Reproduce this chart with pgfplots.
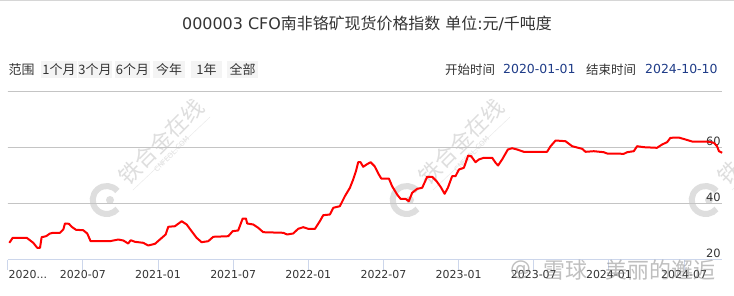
\documentclass[border=0pt]{standalone}
\usepackage{pgfplots}
\pgfplotsset{compat=1.18}
\usepackage{fontspec}
\setmainfont{DejaVu Sans}
\newfontfamily\cjk{Noto Sans CJK SC}
\definecolor{axisc}{HTML}{CCD6EB}
\definecolor{gridc}{HTML}{C4C4C4}
\definecolor{txt}{HTML}{333333}
\definecolor{datec}{HTML}{1F3C88}
\definecolor{btn}{HTML}{F4F4F4}
\definecolor{wm}{HTML}{DEDEDE}
\pgfdeclarelayer{bg}
\pgfsetlayers{bg,main}
\begin{document}
\begin{tikzpicture}[x=1bp,y=1bp]
\begin{axis}[
  name=ax,
  scale only axis, width=714.6bp, height=168bp,
  xmin=0, xmax=57.05, ymin=20, ymax=80,
  axis x line*=bottom, axis y line*=right,
  x axis line style={axisc, line width=1bp, -},
  y axis line style={draw=none},
  xtick={0,6,...,54},
  xticklabels={\makebox[0pt][l]{\hspace{1bp}2020...},2020-07,2021-01,2021-07,2022-01,2022-07,2023-01,2023-07,2024-01,2024-07},
  ytick={40,60,80},
  yticklabels={40,60,{}},
  extra y ticks={20}, extra y tick labels={20},
  extra y tick style={grid=none},
  ymajorgrids, major grid style={draw=gridc, line width=1bp},
  x tick style={axisc, line width=1bp},
  major tick length=10bp,
  tick align=outside,
  y tick style={/pgfplots/major tick length=0bp, draw=gridc, line width=1bp},
  /pgf/number format/assume math mode=true,
  xticklabel style={font=\fontsize{11}{11}\selectfont, text=txt, inner sep=1bp},
  yticklabel pos=right,
  yticklabel style={anchor=south east, font=\fontsize{11.5}{11.5}\selectfont, text=txt, inner sep=1.5bp, xshift=-10bp},
  clip=false,
]
\addplot[red, line width=2bp, line join=round] coordinates {
(0.13,25.96)(0.40,27.75)(1.52,27.75)(2.04,25.96)(2.36,24.18)(2.58,24.18)(2.71,27.96)(3.06,28.32)(3.38,29.29)(3.64,29.54)(4.17,29.54)(4.44,30.71)(4.57,32.86)(4.89,32.75)(5.11,31.68)(5.45,30.61)(6.03,30.46)(6.35,29.29)(6.62,26.54)(8.16,26.54)(8.83,27.14)(9.23,26.79)(9.62,25.71)(9.82,26.89)(10.16,26.32)(10.82,25.96)(11.22,25.0)(11.76,25.61)(12.15,27.14)(12.61,28.93)(12.82,31.68)(13.35,31.89)(13.89,33.68)(14.29,32.5)(14.68,30.11)(15.08,27.75)(15.48,26.18)(16.01,26.54)(16.41,28.11)(17.61,28.32)(17.96,30.11)(18.40,30.36)(18.76,34.64)(19.02,34.64)(19.12,32.86)(19.60,32.5)(20.00,31.32)(20.40,29.75)(22.00,29.54)(22.31,28.93)(22.79,29.29)(23.19,30.96)(23.59,31.54)(23.99,30.96)(24.53,30.96)(24.92,33.68)(25.19,35.82)(25.72,36.07)(25.99,38.46)(26.52,39.04)(26.92,42.61)(27.32,45.61)(27.58,48.57)(27.80,51.54)(27.98,54.75)(28.17,54.75)(28.38,53.11)(28.65,53.93)(28.97,54.75)(29.29,53.32)(29.63,50.36)(29.82,48.93)(30.43,48.93)(30.69,46.18)(31.09,43.21)(31.36,41.68)(31.76,41.68)(32.02,40.82)(32.29,43.82)(32.69,45.25)(33.09,45.61)(33.49,49.54)(33.89,49.54)(34.24,47.96)(34.56,45.96)(34.88,43.46)(35.14,45.61)(35.48,49.75)(35.75,49.75)(36.02,52.14)(36.42,52.75)(36.76,57.14)(37.00,56.89)(37.35,54.75)(37.61,55.71)(38.01,56.32)(38.68,56.32)(38.95,54.54)(39.15,53.57)(39.47,55.71)(39.93,59.29)(40.27,59.75)(40.67,59.29)(41.20,58.46)(43.06,58.46)(43.34,60.46)(43.74,62.5)(44.53,62.25)(45.06,60.46)(45.86,59.54)(46.13,58.46)(46.79,58.68)(47.59,58.32)(47.85,57.86)(49.19,57.75)(49.45,58.32)(49.98,58.68)(50.25,60.46)(50.78,60.11)(51.84,59.89)(52.24,61.07)(52.64,61.89)(52.91,63.46)(53.57,63.57)(54.11,62.86)(54.64,62.14)(55.83,62.14)(56.37,61.68)(56.63,60.46)(56.78,58.68)(57.04,58.11)
};
\coordinate (O) at (rel axis cs:0,0);
\end{axis}
\pgfresetboundingbox
\begin{scope}[shift={(O)}]
\begin{scope}[shift={(-7.7,-35.5)}]
\useasboundingbox (0,0) rectangle (734,295);
\begin{pgfonlayer}{bg}
\fill[white] (0,0) rectangle (734,295);
\draw[gridc!70, line width=1bp] (0,294) -- (734,294);
\foreach \gy in {91.5,147.5,203.5}{
  \draw[gridc, line width=1.1bp] (7.7,\gy) -- (722.3,\gy);
}
\foreach \ox in {0,300,599}{
  \draw[wm, line width=6bp] (106.7+\ox,95) ++(40:14) arc (40:320:14);
  \fill[wm] (110+\ox,95) circle (4);
  \node[rotate=45, text=wm, font=\cjk\fontsize{22}{22}\selectfont] at (161+\ox,153.5) {铁合金在线};
  \node[rotate=45, text=wm, font=\fontsize{7}{7}\selectfont] at (171.7+\ox,141) {CNFEOL.COM};
  \draw[wm!70, line width=0.4bp] (133+\ox,105) -- (210+\ox,178);
}
\foreach \a/\b in {41/77,78/112,115/150,153/185,191/222,227/258}{
  \fill[btn] (\a,217) rectangle (\b,234);
}
\end{pgfonlayer}
% header
\node[text=txt, font=\fontsize{16}{16}\selectfont] at (367,271.7) {000003 CFO{\cjk 南非铬矿现货价格指数} {\cjk 单位}:{\cjk 元}/{\cjk 千吨度}};
\node[anchor=west, inner sep=0, text=txt, font=\cjk\fontsize{13}{13}\selectfont] at (8.5,225.7) {范围};
\foreach \a/\b/\t in {41/77/1个月,78/112/3个月,115/150/6个月,153/185/今年,191/222/1年,227/258/全部}{
  \node[inner sep=0, text=txt, font=\cjk\fontsize{13}{13}\selectfont] at ({(\a+\b)/2},225.7) {\t};
}
\node[anchor=west, inner sep=0, text=txt, font=\cjk\fontsize{12.5}{13}\selectfont] at (445,225.7) {开始时间};
\node[anchor=west, inner sep=0, text=datec, font=\fontsize{12.5}{13}\selectfont] at (503,225.7) {2020-01-01};
\node[anchor=west, inner sep=0, text=txt, font=\cjk\fontsize{12.5}{13}\selectfont] at (586,225.7) {结束时间};
\node[anchor=west, inner sep=0, text=datec, font=\fontsize{12.5}{13}\selectfont] at (645,225.7) {2024-10-10};
% bottom watermark
\begin{scope}[opacity=0.5]
\node[text=gray, font=\fontsize{21}{21}\selectfont] at (520.7,25) {@};
\node[text=gray, font=\cjk\fontsize{22}{22}\selectfont] at (565.7,25) {雪球};
\node[text=gray, font=\cjk\fontsize{22}{22}\selectfont] at (660.5,25) {美丽的邂逅};
\end{scope}
\end{scope}
\end{scope}
\end{tikzpicture}
\end{document}
